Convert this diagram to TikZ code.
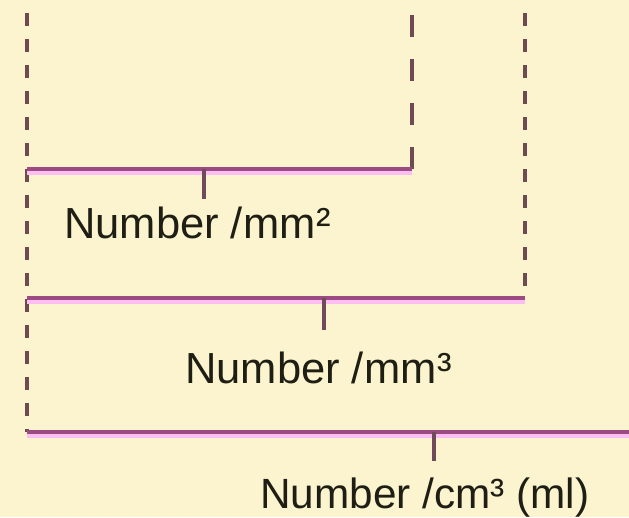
\documentclass[tikz,border=0pt]{standalone}
\usepackage{fontspec}
\setmainfont{Liberation Sans}
\definecolor{paper}{HTML}{FBF4CE}
\definecolor{barcore}{HTML}{9B4B82}
\definecolor{barglow}{HTML}{FBBDF2}
\definecolor{guide}{HTML}{6E4B50}
\definecolor{tickc}{HTML}{6E4A5A}
\definecolor{ink}{HTML}{1E1E14}
\begin{document}
\begin{tikzpicture}[x=1pt,y=-1pt,
  guideline/.style={guide,line width=3.2pt},
  shortdash/.style={guideline,dash pattern=on 12.5pt off 13.5pt},
  longdash/.style={guideline,dash pattern=on 22pt off 22pt},
  bar/.style={barcore,line width=4.4pt},
  barhalo/.style={barglow,line width=6pt},
  tickline/.style={tickc,line width=3.2pt},
  unitlabel/.style={ink,anchor=base west,inner sep=0pt,font=\fontsize{#1}{#1}\selectfont},
  unitlabel/.default=43.5]
  % canvas
  \fill[paper] (0,0) rectangle (629,517);
  \useasboundingbox (0,0) rectangle (629,517);

  % bracket corners and ends
  \coordinate (top0) at (27,0);
  \coordinate (top1) at (412,0);
  \coordinate (top2) at (525,0);
  \coordinate (c1l) at (27,169);
  \coordinate (c1r) at (412,169);
  \coordinate (c2l) at (27,298);
  \coordinate (c2r) at (525,298);
  \coordinate (c3l) at (27,432);
  \coordinate (c3r) at (629,432);
  \coordinate (t1a) at (204,169);
  \coordinate (t1b) at (204,199);
  \coordinate (t2a) at (324,298);
  \coordinate (t2b) at (324,330);
  \coordinate (t3a) at (434,432);
  \coordinate (t3b) at (434,461);

  % labels
  \node[unitlabel] (lab1) at (64,238) {Number /mm\kern1pt²};
  \node[unitlabel] (lab2) at (185,383) {Number /mm\kern1pt³};
  \node[unitlabel=42.3] (lab3) at (260,508) {Number /cm³ (ml)};

  % dashed guides
  \draw[shortdash,dash phase=13pt] (top0) -- (c3l);
  \draw[longdash,dash phase=29pt] (top1) -- (c1r);
  \draw[shortdash,dash phase=13pt] (top2) -- (c2r);

  % brackets, with a soft pink edge under each bar
  \foreach \a/\b in {c1l/c1r,c2l/c2r,c3l/c3r}{
    \draw[barhalo] ([yshift=-3pt]\a) -- ([yshift=-3pt]\b);
    \draw[bar] (\a) -- (\b);
  }

  % ticks
  \draw[tickline] (t1a) -- (t1b);
  \draw[tickline] (t2a) -- (t2b);
  \draw[tickline] (t3a) -- (t3b);
\end{tikzpicture}
\end{document}
